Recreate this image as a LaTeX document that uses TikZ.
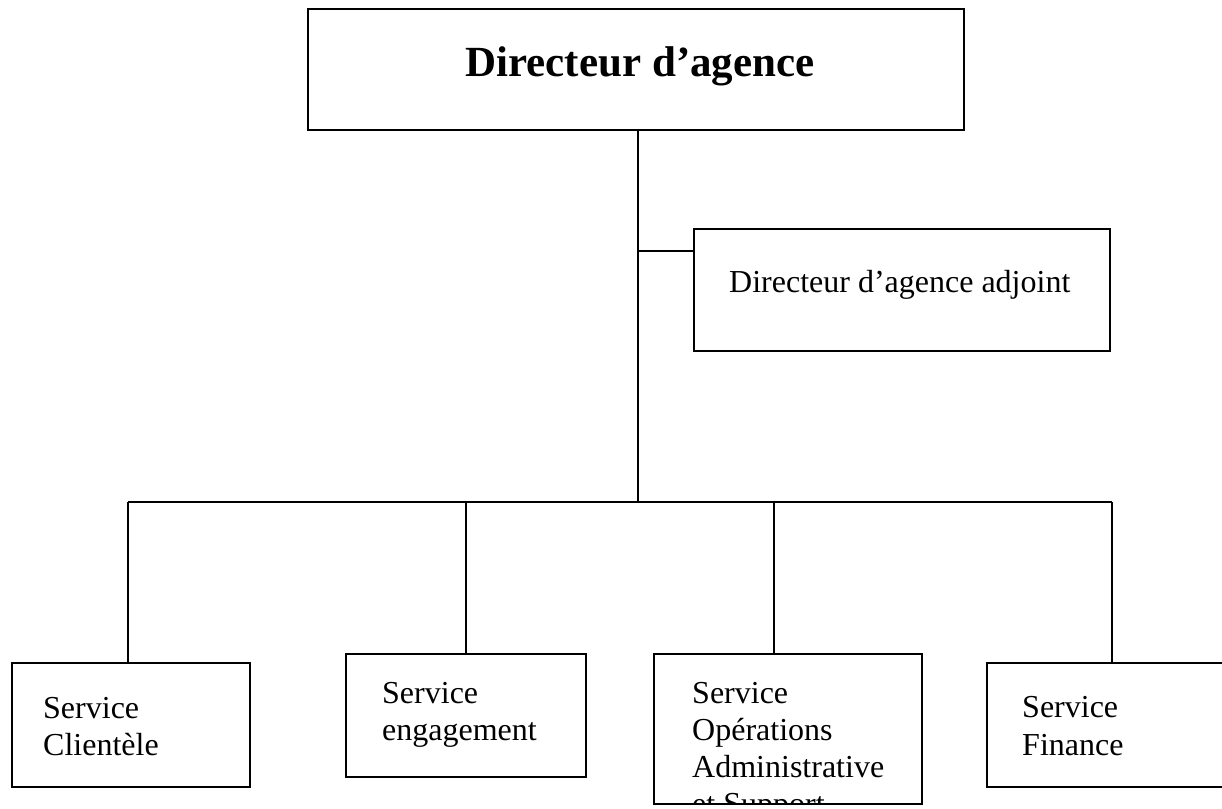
\documentclass[tikz,border=0pt]{standalone}
\usepackage{fontspec}
\setmainfont{Liberation Serif}
\begin{document}
\begin{tikzpicture}[x=1pt,y=-1pt,
  box/.style={draw,line width=1.8pt,inner sep=0pt,outer sep=0pt,anchor=north west},
  txt/.style={inner sep=0pt,anchor=base west,font=\fontsize{32}{37}\selectfont},
  conn/.style={line width=1.6pt}]
\useasboundingbox (0,0) rectangle (1222,808);
% boxes
\node[box,minimum width=656pt,minimum height=121pt] (dir) at (308,9) {};
\node[box,minimum width=416pt,minimum height=122pt] (adj) at (694,229) {};
\node[box,minimum width=238pt,minimum height=124pt] (b1) at (12,663) {};
\node[box,minimum width=240pt,minimum height=123pt] (b2) at (346,654) {};
\node[box,minimum width=268pt,minimum height=150pt] (b3) at (654,654) {};
\node[box,minimum width=260pt,minimum height=124pt] (b4) at (987,663) {};
% texts
\node[inner sep=0pt,anchor=base,font=\fontsize{43}{50}\selectfont\bfseries] (tdir) at (640,77) {Directeur d’agence};
\node[txt] (tadj) at (729,292) {Directeur d’agence adjoint};
\node[txt] (t1a) at (43,718) {Service};
\node[txt] (t1b) at (43,755) {Clientèle};
\node[txt] (t2a) at (382,703) {Service};
\node[txt] (t2b) at (382,740) {engagement};
\begin{scope}
\clip (b3.north west) rectangle (b3.south east);
\node[txt] (t3a) at (692,703) {Service};
\node[txt] (t3b) at (692,740) {Opérations};
\node[txt] (t3c) at (692,777) {Administrative};
\node[txt] (t3d) at (692,814) {et Support};
\end{scope}
\draw[line width=1.8pt] (b3.south west) -- (b3.south east);
\node[txt] (t4a) at (1022,717) {Service};
\node[txt] (t4b) at (1022,755) {Finance};
% connectors
\coordinate (jadj) at (638,251);
\coordinate (jmain) at (638,502);
\coordinate (jl) at (128,502);
\coordinate (jr) at (1112,502);
\draw[conn] (dir.south -| jmain) -- (jmain);
\draw[conn] (jadj) -- (adj.west |- jadj);
\draw[conn] (jl) -- (jr);
\draw[conn] (jl) -- (b1.north -| jl);
\draw[conn] (466,502) -- (b2.north -| 466,0);
\draw[conn] (774,502) -- (b3.north -| 774,0);
\draw[conn] (jr) -- (b4.north -| jr);
\end{tikzpicture}
\end{document}
